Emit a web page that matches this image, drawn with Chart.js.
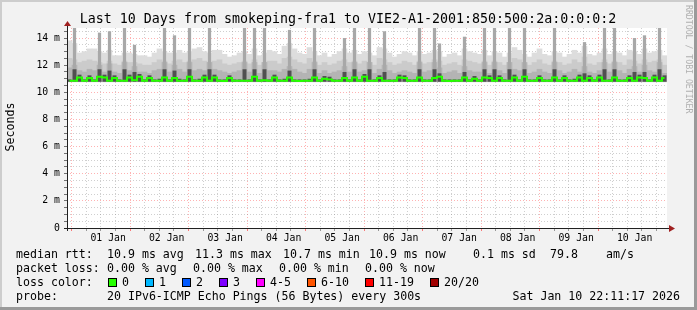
<!DOCTYPE html>
<html>
<head>
<meta charset="utf-8">
<title>smokeping-fra1 to VIE2-A1</title>
<script src="https://cdn.jsdelivr.net/npm/chart.js@4.4.1/dist/chart.umd.min.js"></script>
<style>
  html, body { margin: 0; padding: 0; background: #f2f2f2; }
  #wrap { width: 697px; height: 310px; }
</style>
</head>
<body>
<div id="wrap"><canvas id="rtt" width="697" height="310"></canvas></div>
<script>
// ---------------------------
// data: 120 bins of 2 h each (10 days), values in ms
// ---------------------------
const smokeFloor = 10.78;
const firstMidnight = 1.81; // hours from graph start (Dec 31 22:11) to 01 Jan 00:00

// outer (lightest) smoke top
const smokeLight = [
  13.8,13.6,12.9,13.0,13.2,13.2,13.0,12.9,13.1,12.7, 12.7,12.9,12.9,12.8,12.7,12.7,12.6,12.9,13.2,13.0,
  12.9,12.9,13.1,12.9,13.0,13.2,13.3,13.0,12.9,13.1, 13.1,12.8,12.6,12.7,12.9,13.0,12.8,13.2,12.7,12.9,
  13.1,13.0,12.8,13.4,13.6,13.2,12.9,12.8,13.3,13.0, 12.7,12.9,12.6,12.8,13.0,13.2,12.9,13.1,12.8,13.0,
  12.9,12.7,13.3,13.2,12.9,12.6,12.8,13.0,12.9,12.7, 13.0,12.8,12.9,13.1,13.0,12.6,12.8,12.9,12.7,13.2,
  13.0,12.9,12.8,13.1,12.7,13.0,12.9,12.6,12.9,13.3, 13.1,12.8,12.6,12.9,13.2,12.8,12.7,13.0,12.9,12.6,
  12.8,13.1,12.9,13.4,12.8,12.7,12.9,13.2,12.8,13.0, 12.9,12.7,13.1,13.0,12.8,13.2,12.9,13.0,13.1,12.7
];
// second smoke level
const smokeMid = [
  12.5,12.4,12.2,12.3,12.4,12.3,12.2,12.1,12.3,12.1, 12.0,12.3,12.2,12.2,12.1,12.0,12.0,12.2,12.4,12.3,
  12.1,12.3,12.4,12.2,12.3,12.4,12.5,12.3,12.2,12.3, 12.4,12.1,12.0,12.1,12.2,12.3,12.1,12.4,12.0,12.2,
  12.3,12.3,12.1,12.5,12.6,12.4,12.2,12.1,12.5,12.3, 12.0,12.2,12.0,12.1,12.3,12.4,12.2,12.3,12.1,12.3,
  12.2,12.0,12.5,12.4,12.2,12.0,12.1,12.3,12.2,12.0, 12.3,12.1,12.2,12.4,12.3,12.0,12.1,12.2,12.0,12.4,
  12.3,12.2,12.1,12.3,12.0,12.3,12.2,12.0,12.2,12.5, 12.4,12.1,12.0,12.2,12.4,12.1,12.0,12.3,12.2,12.0,
  12.1,12.4,12.2,12.6,12.1,12.0,12.2,12.4,12.1,12.3, 12.2,12.0,12.4,12.3,12.1,12.4,12.2,12.3,12.4,12.0
];
// third smoke level
const smokeDark = [
  11.8,12.0,11.6,11.5,11.7,11.6,12.0,11.5,12.1,11.5, 11.4,12.2,11.6,11.9,11.5,11.5,11.4,11.6,11.7,12.2,
  11.5,12.0,11.7,11.5,12.2,11.6,11.7,11.6,12.2,11.7, 11.6,11.5,11.4,11.5,11.6,12.2,11.5,12.2,11.4,12.2,
  11.6,11.6,11.5,11.7,11.9,11.7,11.5,11.4,11.7,12.2, 11.4,11.6,11.4,11.5,11.6,11.9,11.5,12.2,11.5,11.6,
  12.2,11.4,11.7,12.0,11.6,11.4,11.5,11.6,11.5,11.4, 12.2,11.5,11.6,12.2,11.8,11.4,11.5,11.6,11.4,11.9,
  11.6,11.5,11.5,12.2,11.4,12.2,11.6,11.4,12.2,11.7, 11.6,12.2,11.4,11.5,11.7,11.5,11.4,12.2,11.6,11.4,
  11.5,11.7,11.5,11.9,11.5,11.4,11.6,12.2,11.5,12.2, 11.6,11.4,11.7,11.9,11.5,12.0,11.6,11.5,12.2,11.4
];
// smoke closest to the median
const smokeCore = [
  10.95,11.7,11.3,10.95,11.25,10.95,11.7,11.3,11.6,11.25, 10.95,11.7,11.3,11.5,11.35,10.95,11.25,10.95,11.0,11.7,
  10.95,11.6,11.0,10.95,11.7,10.95,11.0,11.3,11.7,11.3, 10.95,10.95,11.25,10.95,10.95,11.7,10.95,11.7,10.95,11.7,
  10.95,11.3,10.95,11.0,11.6,10.95,10.95,10.95,11.0,11.7, 10.95,11.2,11.15,10.95,10.95,11.5,10.95,11.7,10.95,11.35,
  11.7,10.95,11.25,11.5,10.95,10.95,11.3,11.25,10.95,10.95, 11.7,10.95,10.95,11.7,11.4,10.95,10.95,10.95,10.95,11.5,
  10.95,11.2,10.95,11.7,11.25,11.7,11.25,10.95,11.7,11.3, 10.95,11.7,10.95,10.95,11.25,10.95,10.95,11.7,10.95,11.25,
  10.95,11.0,11.3,11.4,11.25,10.95,11.3,11.7,10.95,11.7, 10.95,10.95,11.25,11.5,11.3,11.5,10.95,11.3,11.7,11.25
];
// narrow tall columns: bin index and top
const spikeBins = [1,6,8,11,13,19,21,24,28,35,37,39,44,49,55,57,60,63,70,73,74,79,83,85,88,91,97,103,107,109,113,115,118];
const spikeTops = [15,14.4,14.5,15,13.5,15,14.2,15,15,15,15,15,14.6,15,14.0,15,15,14.5,15,15,13.6,14.1,15,15,15,15,15,13.7,15,15,14.0,14.2,15];
// median rtt
const medianRtt = [
  10.85,10.85,11.1,10.86,11.05,10.85,11.15,11.1,10.86,11.05, 10.85,10.86,11.1,10.88,11.15,10.85,11.05,10.85,10.86,11.1,
  10.85,11.05,10.86,10.85,11.15,10.86,10.85,11.1,10.86,11.1, 10.85,10.84,11.05,10.85,10.85,10.86,10.85,11.15,10.86,10.88,
  10.85,11.1,10.86,10.85,11.1,10.86,10.84,10.85,10.86,11.1, 10.85,11.0,10.95,10.86,10.85,11.05,10.85,11.1,10.85,11.15,
  10.86,10.85,11.05,10.86,10.85,10.86,11.1,11.05,10.85,10.86, 11.1,10.85,10.86,11.05,11.15,10.85,10.84,10.85,10.86,11.1,
  10.85,11.0,10.86,11.1,11.05,10.85,11.05,10.86,10.85,11.1, 10.85,11.15,10.86,10.85,11.05,10.86,10.85,11.1,10.86,11.05,
  10.85,10.86,11.1,10.85,11.05,10.86,11.1,10.85,10.86,11.1, 10.85,10.86,11.05,10.85,11.1,11.05,10.86,11.1,10.85,11.05
];

const dayLabels = ['01 Jan','02 Jan','03 Jan','04 Jan','05 Jan','06 Jan','07 Jan','08 Jan','09 Jan','10 Jan'];
const yTickLabels = ['0','2 m','4 m','6 m','8 m','10 m','12 m','14 m'];

const rttStats = [['median rtt:',16],['10.9 ms avg',107],['11.3 ms max',195],['10.7 ms min',283],
                  ['10.9 ms now',369],['0.1 ms sd',473],['79.8',550],['am/s',606]];
const lossStats = [['packet loss:',16],['0.00 % avg',107],['0.00 % max',193],['0.00 % min',279],['0.00 % now',365]];
const lossNames = ['0','1','2','3','4-5','6-10','11-19','20/20'];
const lossColors = ['#26ff00','#00b8ff','#0059ff','#7e00ff','#ff00ff','#ff5500','#ff0000','#a10000'];

// ---------------------------
// chart
// ---------------------------
const mono = "'DejaVu Sans Mono', monospace";
const gridMajor = 'rgba(255,0,0,0.3)';
const gridMinor = 'rgba(130,130,130,0.38)';
const bins = smokeLight.map((_, i) => i);

function smokeSet(label, tops, color, order, pct) {
  return {
    label: label,
    order: order,
    data: tops.map(v => v == null ? null : [smokeFloor, v]),
    backgroundColor: color,
    borderWidth: 0,
    grouped: false,
    barPercentage: pct || 1,
    categoryPercentage: 1,
    xAxisID: 'x',
    yAxisID: 'y'
  };
}

const spikeData = bins.map(i => {
  const j = spikeBins.indexOf(i);
  return j < 0 ? null : spikeTops[j];
});

const frame = {
  id: 'frame',
  beforeDraw(chart) {
    const { ctx, width, height, chartArea: a } = chart;
    ctx.save();
    ctx.fillStyle = '#f2f2f2';
    ctx.fillRect(0, 0, width, height);
    ctx.fillStyle = '#cdcdcd';
    ctx.fillRect(0, 0, width, 2);
    ctx.fillRect(0, 0, 2, height);
    ctx.fillStyle = '#9a9a9a';
    ctx.fillRect(0, height - 3, width, 3);
    ctx.fillRect(width - 3, 0, 3, height);
    ctx.fillStyle = '#ffffff';
    ctx.fillRect(a.left, a.top, a.right - a.left, a.bottom - a.top);
    ctx.restore();
  },
  afterDraw(chart) {
    const { ctx, chartArea: a } = chart;
    ctx.save();
    // axes + arrows
    ctx.strokeStyle = '#202020';
    ctx.lineWidth = 1;
    ctx.beginPath();
    ctx.moveTo(a.left + 0.5, a.bottom + 3);
    ctx.lineTo(a.left + 0.5, a.top - 3);
    ctx.moveTo(a.left - 3, a.bottom + 0.5);
    ctx.lineTo(a.right + 3, a.bottom + 0.5);
    ctx.stroke();
    ctx.fillStyle = '#a02020';
    ctx.beginPath();
    ctx.moveTo(a.left - 3, a.top - 2);
    ctx.lineTo(a.left + 4, a.top - 2);
    ctx.lineTo(a.left + 0.5, a.top - 7);
    ctx.fill();
    ctx.beginPath();
    ctx.moveTo(a.right + 2, a.bottom - 3);
    ctx.lineTo(a.right + 2, a.bottom + 4);
    ctx.lineTo(a.right + 8, a.bottom + 0.5);
    ctx.fill();

    // title
    ctx.fillStyle = '#000';
    ctx.font = '13.3px ' + mono;
    ctx.textAlign = 'center';
    ctx.textBaseline = 'alphabetic';
    ctx.fillText('Last 10 Days from smokeping-fra1 to VIE2-A1-2001:850:500:2a:0:0:0:2', 348, 23);

    // y title
    ctx.save();
    ctx.translate(11, 127);
    ctx.rotate(-Math.PI / 2);
    ctx.font = '11.6px ' + mono;
    ctx.textBaseline = 'middle';
    ctx.fillText('Seconds', 0, 0);
    ctx.restore();

    // watermark
    ctx.save();
    ctx.translate(688, 5);
    ctx.rotate(Math.PI / 2);
    ctx.font = '8.2px ' + mono;
    ctx.fillStyle = '#b0b0b0';
    ctx.textAlign = 'left';
    ctx.textBaseline = 'middle';
    ctx.fillText('RRDTOOL / TOBI OETIKER', 0, 0);
    ctx.restore();

    // legend rows
    ctx.font = '11.6px ' + mono;
    ctx.textAlign = 'left';
    ctx.textBaseline = 'alphabetic';
    ctx.fillStyle = '#000';
    rttStats.forEach(s => ctx.fillText(s[0], s[1], 258));
    lossStats.forEach(s => ctx.fillText(s[0], s[1], 272));
    ctx.fillText('loss color:', 16, 286);
    let x = 108;
    lossNames.forEach((n, i) => {
      ctx.fillStyle = lossColors[i];
      ctx.fillRect(x, 278, 9, 9);
      ctx.strokeStyle = '#000';
      ctx.strokeRect(x + 0.5, 278.5, 8, 8);
      ctx.fillStyle = '#000';
      ctx.fillText(n, x + 14, 286);
      x += 30 + 7 * n.length;
    });
    ctx.fillText('probe:', 16, 300);
    ctx.fillText('20 IPv6-ICMP Echo Pings (56 Bytes) every 300s', 107, 300);
    ctx.textAlign = 'right';
    ctx.fillText('Sat Jan 10 22:11:17 2026', 680, 300);
    ctx.restore();
  }
};

new Chart(document.getElementById('rtt').getContext('2d'), {
  type: 'bar',
  data: {
    labels: bins,
    datasets: [
      {
        type: 'line',
        label: 'median rtt',
        order: 0,
        data: medianRtt,
        borderColor: '#26ff00',
        borderWidth: 2,
        pointRadius: 0,
        stepped: 'middle',
        fill: false,
        xAxisID: 'x',
        yAxisID: 'y'
      },
      smokeSet('core', smokeCore, '#505050', 1, 0.8),
      smokeSet('spikes', spikeData, '#a8a8a8', 2, 0.65),
      smokeSet('dark', smokeDark, '#b4b4b4', 3),
      smokeSet('mid', smokeMid, '#cbcbcb', 4),
      smokeSet('light', smokeLight, '#dddddd', 5)
    ]
  },
  options: {
    responsive: false,
    animation: false,
    devicePixelRatio: 1,
    layout: { padding: { top: 28, right: 30, left: 0, bottom: 0 } },
    plugins: { legend: { display: false }, tooltip: { enabled: false } },
    scales: {
      x: { type: 'category', display: false, offset: true },
      xt: {
        type: 'linear',
        position: 'bottom',
        min: 0,
        max: 240,
        z: 1,
        afterBuildTicks: s => {
          const t = [];
          for (let h = firstMidnight; h <= 240; h += 6) t.push({ value: h });
          s.ticks = t;
        },
        afterFit: s => { s.height = 82; },
        ticks: {
          autoSkip: false, maxRotation: 0, minRotation: 0, padding: 2, color: '#000',
          font: { family: mono, size: 9.8 },
          callback: (v, i) => (i % 4 === 2 ? dayLabels[(i - 2) / 4] : '')
        },
        grid: {
          color: c => (c.index % 4 === 0 ? gridMajor : gridMinor),
          tickColor: c => (c.index % 4 === 0 ? 'rgba(255,0,0,0.5)' : 'rgba(90,90,90,0.6)'),
          tickLength: 3
        },
        border: { display: false, dash: [1, 2] }
      },
      y: {
        min: 0,
        max: 14.74,
        z: 1,
        afterBuildTicks: s => {
          const t = [];
          for (let v = 0; v <= 14.5; v += 0.5) t.push({ value: v });
          s.ticks = t;
        },
        afterFit: s => { s.width = 67; },
        ticks: {
          autoSkip: false, padding: 4, color: '#000',
          font: { family: mono, size: 9.8 },
          callback: v => (v % 2 === 0 ? yTickLabels[v / 2] : '')
        },
        grid: {
          color: c => (c.tick.value % 2 === 0 ? gridMajor : gridMinor),
          tickColor: 'rgba(60,60,60,0.7)',
          tickLength: 3
        },
        border: { display: false, dash: [1, 2] }
      }
    }
  },
  plugins: [frame]
});
</script>
</body>
</html>
